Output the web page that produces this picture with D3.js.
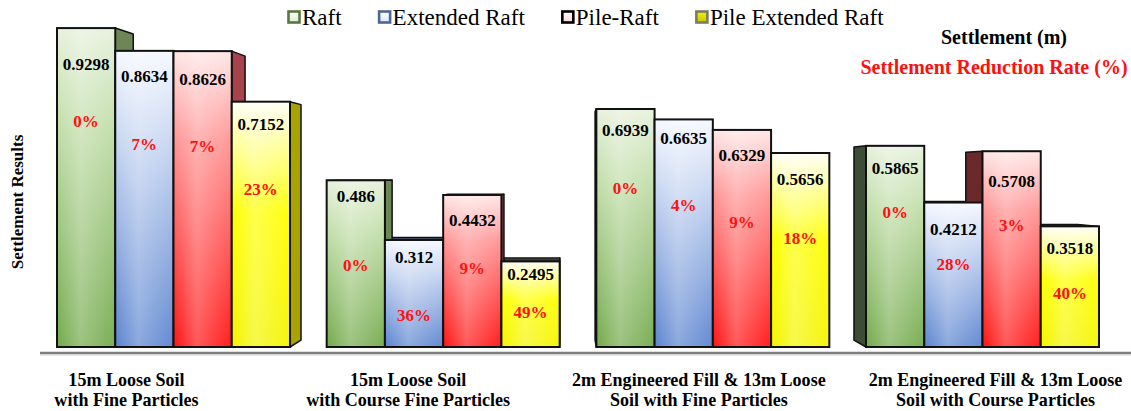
<!DOCTYPE html>
<html>
<head>
<meta charset="utf-8">
<script src="https://cdn.jsdelivr.net/npm/d3@7"></script>
<style>
  body { margin: 0; background: #fff; }
  svg { display: block; }
</style>
</head>
<body>
<svg id="chart" width="1131" height="411"></svg>
<script>
// ---- data ----
const categories = [
  ["15m Loose Soil", "with Fine Particles"],
  ["15m Loose Soil", "with Course Fine Particles"],
  ["2m Engineered Fill & 13m Loose", "Soil with Fine Particles"],
  ["2m Engineered Fill & 13m Loose", "Soil with Course Particles"]
];
const seriesNames = ["Raft", "Extended Raft", "Pile-Raft", "Pile Extended Raft"];

// settlement (m)
const raft             = [0.9298, 0.486,  0.6939, 0.5865];
const extendedRaft     = [0.8634, 0.312,  0.6635, 0.4212];
const pileRaft         = [0.8626, 0.4432, 0.6329, 0.5708];
const pileExtendedRaft = [0.7152, 0.2495, 0.5656, 0.3518];

// settlement reduction rate (%)
const raftRate             = [0, 0, 0, 0];
const extendedRaftRate     = [7, 36, 4, 28];
const pileRaftRate         = [7, 9, 9, 3];
const pileExtendedRaftRate = [23, 49, 18, 40];

const settlement = [raft, extendedRaft, pileRaft, pileExtendedRaft];
const rates = [raftRate, extendedRaftRate, pileRaftRate, pileExtendedRaftRate];

// ---- layout ----
const W = 1131, H = 411;
const FONT = '"Liberation Serif", "Times New Roman", serif';
const svg = d3.select("#chart");
const txt = sel => sel.append("text").style("font-family", FONT);

const x0 = d3.scaleBand().domain(d3.range(categories.length))
  .range([57, 1099]).paddingInner(0.136).paddingOuter(0);
const x1 = d3.scaleBand().domain(d3.range(seriesNames.length))
  .range([0, x0.bandwidth()]);
const y = d3.scaleLinear().domain([0, 1]).range([347, 4]);

// perspective: depth faces recede toward a vanishing point
const VP = [565, 175], DEPTH = 0.04;
const back = p => [p[0] + DEPTH * (VP[0] - p[0]), p[1] + DEPTH * (VP[1] - p[1])];

// label placement below each bar top, [series][group]
const valueLabelOffset = [[36, 16, 21, 22], [25, 17, 19, 27], [28, 25, 25, 30], [22, 13, 26, 22]];
const rateLabelOffset  = [[93, 85, 79, 66], [93, 75, 86, 62], [95, 73, 92, 74], [87, 51, 85, 67]];
const groupLabelShift  = [-47, -35, -14, 13];

const styles = [
  { stops: [["0%", "#e6f1dc"], ["30%", "#c2deaa"], ["100%", "#72a94a"]],
    right: "#6c8655", left: "#3c4d35", top: "#55683f",
    key: { stroke: "#58763e", fill: ["#ffffff", "#dcebcf"] } },
  { stops: [["0%", "#f5f8ff"], ["35%", "#bfd0ef"], ["100%", "#5a83cf"]],
    right: "#4d6699", left: "#2f3f66", top: "#3a4352",
    key: { stroke: "#4b6797", fill: ["#ffffff", "#dde6f6"] } },
  { stops: [["0%", "#ffe6e6"], ["30%", "#ff9494"], ["100%", "#ff1212"]],
    right: "#a8434b", left: "#6a2a2b", top: "#4a2626",
    key: { stroke: "#000000", fill: ["#ffffff", "#ffd6d6"] } },
  { stops: [["0%", "#fffff6"], ["25%", "#ffff70"], ["45%", "#ffff00"], ["100%", "#f4f400"]],
    right: "#a9a300", left: "#6d6a12", top: "#3e3e36",
    key: { stroke: "#7c7c64", fill: ["#f2f200", "#c8c800"] } }
];

// ---- gradients ----
const defs = svg.append("defs");
styles.forEach((s, i) => {
  const g = defs.append("linearGradient").attr("id", "front" + i)
    .attr("x1", 0).attr("y1", 0).attr("x2", 0).attr("y2", 1);
  s.stops.forEach(([o, c]) => g.append("stop").attr("offset", o).attr("stop-color", c));
  const k = defs.append("linearGradient").attr("id", "key" + i)
    .attr("x1", 0).attr("y1", 0).attr("x2", 0).attr("y2", 1);
  k.append("stop").attr("offset", "0%").attr("stop-color", s.key.fill[0]);
  k.append("stop").attr("offset", "100%").attr("stop-color", s.key.fill[1]);
});
const sheen = defs.append("linearGradient").attr("id", "sheen")
  .attr("x1", 0).attr("y1", 0).attr("x2", 1).attr("y2", 0);
[["0%", 0], ["40%", 0.3], ["100%", 0.05]].forEach(([o, a]) =>
  sheen.append("stop").attr("offset", o).attr("stop-color", "#fff").attr("stop-opacity", a));

// ---- bars ----
const bars = [];
categories.forEach((c, gi) => {
  seriesNames.forEach((s, si) => {
    const xa = x0(gi) + x1(si), xb = xa + x1.bandwidth();
    const v = settlement[si][gi];
    bars.push({ gi, si, v, rate: rates[si][gi], xa, xb, yt: y(v), yb: y(0) });
  });
});

const pts = a => a.map(p => p.join(",")).join(" ");
const gTop = svg.append("g"), gSide = svg.append("g"), gFront = svg.append("g");

bars.forEach(b => {
  const st = styles[b.si];
  const TL = [b.xa, b.yt], TR = [b.xb, b.yt], BL = [b.xa, b.yb], BR = [b.xb, b.yb];
  if (b.yt > VP[1]) {
    gTop.append("polygon").attr("points", pts([TL, TR, back(TR), back(TL)]))
      .attr("fill", st.top).attr("stroke", "#111").attr("stroke-width", 1.2)
      .attr("stroke-linejoin", "round");
  }
  if (b.xb < VP[0]) {
    gSide.append("polygon").attr("points", pts([TR, back(TR), back(BR), BR]))
      .attr("fill", st.right).attr("stroke", "#111").attr("stroke-width", 1.5)
      .attr("stroke-linejoin", "round");
  } else if (b.xa > VP[0]) {
    gSide.append("polygon").attr("points", pts([TL, back(TL), back(BL), BL]))
      .attr("fill", st.left).attr("stroke", "#111").attr("stroke-width", 1.5)
      .attr("stroke-linejoin", "round");
  }
  gFront.append("rect").attr("x", b.xa).attr("y", b.yt)
    .attr("width", b.xb - b.xa).attr("height", b.yb - b.yt)
    .attr("fill", `url(#front${b.si})`);
  gFront.append("rect").attr("x", b.xa).attr("y", b.yt)
    .attr("width", b.xb - b.xa).attr("height", b.yb - b.yt)
    .attr("fill", "url(#sheen)").attr("stroke", "#111").attr("stroke-width", 2);
});

// value and rate labels
const gLab = svg.append("g").attr("text-anchor", "middle")
  .attr("font-weight", "bold").attr("font-size", 17);
bars.forEach(b => {
  const cx = (b.xa + b.xb) / 2;
  txt(gLab).attr("x", cx).attr("y", b.yt + valueLabelOffset[b.si][b.gi])
    .attr("dy", "0.35em").attr("fill", "#000").text(b.v);
  txt(gLab).attr("x", cx).attr("y", b.yt + rateLabelOffset[b.si][b.gi])
    .attr("dy", "0.35em").attr("fill", "#ff1010").text(b.rate + "%");
});

// baseline
svg.append("line").attr("x1", 40).attr("x2", W).attr("y1", 353).attr("y2", 353)
  .attr("stroke", "#7d7d7d").attr("stroke-width", 2.6);
svg.append("line").attr("x1", 40).attr("x2", W).attr("y1", 355).attr("y2", 355)
  .attr("stroke", "#d0d0d0").attr("stroke-width", 1);

// category labels
categories.forEach((lines, gi) => {
  const cx = x0(gi) + x0.bandwidth() / 2 + groupLabelShift[gi];
  lines.forEach((t, li) => {
    txt(svg)
      .attr("transform", `translate(${cx},${386 + li * 20}) scale(0.95,1)`)
      .attr("text-anchor", "middle").attr("font-weight", "bold")
      .attr("font-size", 19).attr("fill", "#000").text(t);
  });
});

// axis title
txt(svg).attr("transform", "translate(23,202) rotate(-90)")
  .attr("text-anchor", "middle").attr("font-weight", "bold")
  .attr("font-size", 17).text("Settlement Results");

// legend
const leg = svg.append("g").attr("transform", "translate(287,0)");
let lx = 0;
seriesNames.forEach((name, i) => {
  const st = styles[i];
  leg.append("rect").attr("x", lx + 1.5).attr("y", 11.5).attr("width", 11).attr("height", 11)
    .attr("fill", `url(#key${i})`).attr("stroke", st.key.stroke).attr("stroke-width", 2.6);
  const t = txt(leg).attr("x", lx + 15).attr("y", 25)
    .attr("font-size", 23).attr("fill", "#000").text(name);
  lx += 15 + t.node().getComputedTextLength() + 36;
});

// value legend
txt(svg).attr("x", 1004).attr("y", 44).attr("text-anchor", "middle")
  .attr("font-weight", "bold").attr("font-size", 20).attr("fill", "#000")
  .text("Settlement (m)");
txt(svg).attr("x", 994).attr("y", 74).attr("text-anchor", "middle")
  .attr("font-weight", "bold").attr("font-size", 20).attr("fill", "#ff1010")
  .text("Settlement Reduction Rate (%)");
</script>
</body>
</html>
